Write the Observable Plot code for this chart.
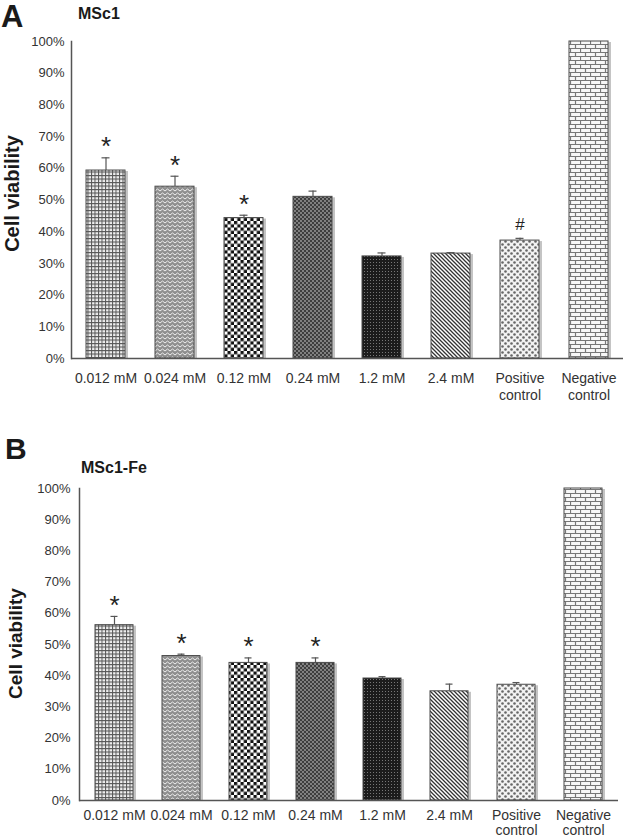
<!DOCTYPE html>
<html><head><meta charset="utf-8">
<script src="https://cdn.jsdelivr.net/npm/d3@7"></script>
<script src="https://cdn.jsdelivr.net/npm/@observablehq/plot@0.6"></script>
<style>
body{margin:0;background:#fff;font-family:"Liberation Sans",Arial,sans-serif;}
#wrap{position:relative;width:627px;height:838px;overflow:hidden;background:#fff;}
.ttl{position:absolute;font-weight:bold;line-height:1;color:#1a1a1a;white-space:nowrap;z-index:5;}
#pa{position:absolute;left:0;top:0;z-index:1;}
#pb{position:absolute;left:0;top:405px;z-index:1;}
</style></head>
<body>
<svg width="0" height="0" style="position:absolute">
<defs>
<pattern id="pGrid" width="3.5" height="3.5" patternUnits="userSpaceOnUse">
<rect width="3.5" height="3.5" fill="#f0f0f0"/><path d="M0,0.5H3.5M0.5,0V3.5" stroke="#555" stroke-width="1"/></pattern>
<pattern id="pZig" width="5" height="4" patternUnits="userSpaceOnUse">
<rect width="5" height="4" fill="#8f8f8f"/><path d="M0,3L2.5,1L5,3" fill="none" stroke="#eee" stroke-width="1"/></pattern>
<pattern id="pCheck" width="6.5" height="6.5" patternUnits="userSpaceOnUse">
<rect width="6.5" height="6.5" fill="#fff"/><rect width="3.25" height="3.25" fill="#111"/><rect x="3.25" y="3.25" width="3.25" height="3.25" fill="#111"/></pattern>
<pattern id="pDark" width="4" height="4" patternUnits="userSpaceOnUse">
<rect width="4" height="4" fill="#3e3e3e"/><circle cx="1" cy="1" r="0.9" fill="#a0a0a0"/><circle cx="3" cy="3" r="0.9" fill="#a0a0a0"/></pattern>
<pattern id="pBlack" width="3" height="3" patternUnits="userSpaceOnUse">
<rect width="3" height="3" fill="#1c1c1c"/><rect x="1" y="1" width="1" height="1" fill="#777"/></pattern>
<pattern id="pDiag" width="4" height="4" patternUnits="userSpaceOnUse">
<rect width="4" height="4" fill="#fff"/><path d="M-1,-1L5,5M-1,3L1,5M3,-1L5,1" stroke="#333" stroke-width="1.3"/></pattern>
<pattern id="pPos" width="6" height="6" patternUnits="userSpaceOnUse">
<rect width="6" height="6" fill="#f2f2f2"/><circle cx="1.5" cy="1.5" r="1.3" fill="#666"/><circle cx="4.5" cy="4.5" r="1.3" fill="#666"/></pattern>
<pattern id="pBrick" width="10" height="8" patternUnits="userSpaceOnUse">
<rect width="10" height="8" fill="#f7f7f7"/><path d="M0,0.5H10M0,4.5H10M0.5,0V4M5.5,4V8" stroke="#777" stroke-width="1.2"/></pattern>
</defs></svg>
<div id="wrap">
<div id="pa"></div>
<div id="pb"></div>
<div class="ttl" style="left:1px;top:0px;font-size:31px;line-height:1.12;">A</div>
<div class="ttl" style="left:78px;top:5.5px;font-size:16px;">MSc1</div>
<div class="ttl" style="left:5px;top:433.6px;font-size:30px;">B</div>
<div class="ttl" style="left:81px;top:459.5px;font-size:16px;">MSc1-Fe</div>
</div>
<script>
// ---- data ----
const categories = ["0.012 mM","0.024 mM","0.12 mM","0.24 mM","1.2 mM","2.4 mM","Positive\ncontrol","Negative\ncontrol"];
const yTicks = [0,10,20,30,40,50,60,70,80,90,100];
const msc1Values = [59.3, 54.2, 44.3, 51.0, 32.2, 33.1, 37.2, 100];
const msc1Errors = [4.0, 3.3, 0.9, 1.8, 1.1, 0.3, 0.7, 0];
const msc1Marks  = ["*","*","*","","","","#",""];
const feValues = [56.2, 46.3, 44.1, 44.1, 39.1, 35.0, 37.1, 100];
const feErrors = [2.8, 0.6, 1.6, 1.6, 0.6, 2.3, 0.7, 0];
const feMarks  = ["*","*","*","*","","","",""];
// ---- styles ----
const patterns = ["pGrid","pZig","pCheck","pDark","pBlack","pDiag","pPos","pBrick"];

function panel(values, errors, sig, cfg) {
  const data = categories.map((c, i) => ({cat: c, value: values[i], top: values[i] + errors[i], mark: sig[i], pat: `url(#${patterns[i]})`}));
  return Plot.plot({
    width: 627, height: cfg.height,
    marginLeft: cfg.ml, marginRight: cfg.mr, marginTop: cfg.mt, marginBottom: cfg.mb,
    style: {fontFamily: '"Liberation Sans", Arial, sans-serif', color: "#333", background: "transparent", overflow: "visible"},
    x: {domain: categories, paddingInner: 0.44, paddingOuter: 0.22, label: null},
    y: {domain: [0, 100], label: null},
    color: {type: "identity"},
    marks: [
      Plot.barY(data, {x: "cat", y: "value", fill: "#c4c4c4", dx: 3, dy: 1}),
      Plot.barY(data, {x: "cat", y: "value", fill: "pat", stroke: "#4a4a4a", strokeWidth: 1}),
      Plot.ruleX(data.filter(d => d.top > d.value), {x: "cat", y1: "value", y2: "top", stroke: "#555", strokeWidth: 1.2}),
      Plot.tickY(data.filter(d => d.top > d.value), {x: "cat", y: "top", stroke: "#555", strokeWidth: 1.2, insetLeft: 15.5, insetRight: 15.5}),
      Plot.text(data.filter(d => d.mark === "*"), {x: "cat", y: "top", text: "mark", dy: -11, fontSize: 26, fill: "#222"}),
      Plot.text(data.filter(d => d.mark === "#"), {x: "cat", y: "top", text: "mark", dy: -14, fontSize: 17, fill: "#222"}),
      Plot.ruleY([0], {stroke: "#555", strokeWidth: 1.5}),
      Plot.frame({anchor: "left", stroke: "#555", strokeWidth: 1.5}),
      Plot.axisY({ticks: yTicks, tickSize: 0, tickPadding: cfg.yPad, tickFormat: d => d + "%", fontSize: 13, fill: "#333"}),
      Plot.axisX({tickSize: 0, tickPadding: cfg.xPad, fontSize: 14, lineHeight: cfg.lh, fill: "#333"}),
      Plot.text(["Cell viability"], {frameAnchor: "left", textAnchor: "middle", lineAnchor: "middle", rotate: -90, dx: cfg.ldx, dy: cfg.ldy, fontSize: cfg.lfs, fontWeight: "bold", fill: "#1a1a1a"})
    ]
  });
}

document.getElementById("pa").append(panel(msc1Values, msc1Errors, msc1Marks,
  {height: 405, ml: 71, mr: 4, mt: 41, mb: 47, yPad: 7, xPad: 13, lh: 1.2, ldx: -59, ldy: -6.5, lfs: 20}));
document.getElementById("pb").append(panel(feValues, feErrors, feMarks,
  {height: 433, ml: 79, mr: 9, mt: 83, mb: 38, yPad: 9, xPad: 9, lh: 1.05, ldx: -64, ldy: -1, lfs: 19}));
</script>
</body></html>
